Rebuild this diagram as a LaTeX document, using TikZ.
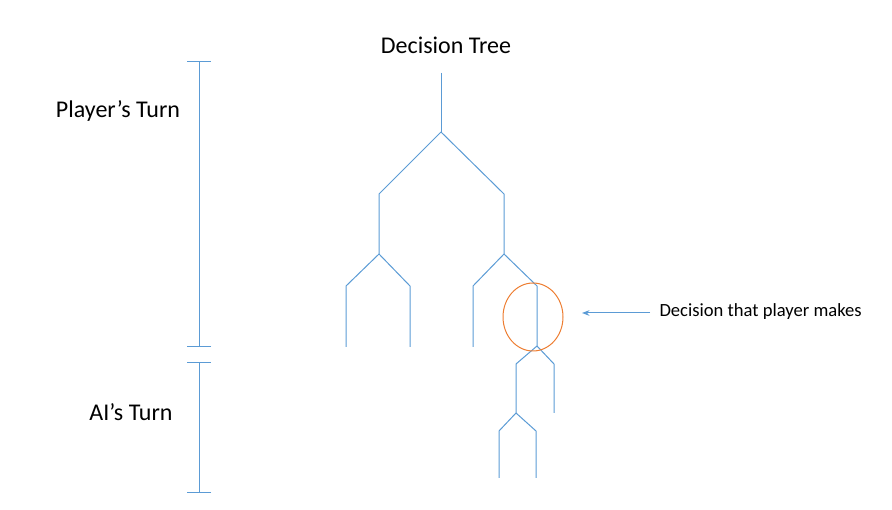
\documentclass[tikz,border=0pt]{standalone}
\usepackage{fontspec}
\setmainfont{Carlito}
\usetikzlibrary{arrows.meta, shapes.geometric}
\definecolor{treeblue}{HTML}{5B9BD5}
\definecolor{markorange}{HTML}{ED7D31}
\begin{document}
\begin{tikzpicture}[x=1pt, y=-1pt, >=Stealth, line width=1pt]
\useasboundingbox (0,0) rectangle (892,510);
\node (title) at (446,45) {\fontsize{24}{28}\selectfont Decision Tree};
\node (player) at (118,111) {\fontsize{24}{28}\selectfont Player’s Turn};
\node (ai) at (131,412) {\fontsize{24}{28}\selectfont AI’s Turn};
\node[anchor=west, inner sep=0pt] (note) at (659,312) {\fontsize{18.6}{22}\selectfont Decision that player makes};
% turn brackets
\coordinate (p1) at (199,61);
\coordinate (p2) at (199,347);
\coordinate (q1) at (199,362);
\coordinate (q2) at (199,493);
\draw[treeblue, {Bar[width=24pt]}-{Bar[width=24pt]}] (p1) -- (p2);
\draw[treeblue, {Bar[width=24pt]}-{Bar[width=24pt]}] (q1) -- (q2);
% tree
\coordinate (top) at (441,73);
\coordinate (r) at (441,132);
\coordinate (a) at (379,194);   \coordinate (a1) at (379,254);
\coordinate (b) at (504,194);   \coordinate (b1) at (504,254);
\coordinate (aa) at (346,286);  \coordinate (aa1) at (346,347);
\coordinate (ab) at (410,286);  \coordinate (ab1) at (410,347);
\coordinate (ba) at (473,286);  \coordinate (ba1) at (473,347);
\coordinate (bb) at (537,286);  \coordinate (bb1) at (537,346);
\coordinate (bba) at (516,364); \coordinate (bba1) at (516,413);
\coordinate (bbb) at (554,364); \coordinate (bbb1) at (554,413);
\coordinate (bbaa) at (499,431); \coordinate (bbaa1) at (499,478);
\coordinate (bbab) at (536,431); \coordinate (bbab1) at (536,478);
\draw[treeblue] (top) -- (r);
\draw[treeblue] (r) -- (a) -- (a1);
\draw[treeblue] (r) -- (b) -- (b1);
\draw[treeblue] (a1) -- (aa) -- (aa1);
\draw[treeblue] (a1) -- (ab) -- (ab1);
\draw[treeblue] (b1) -- (ba) -- (ba1);
\draw[treeblue] (b1) -- (bb) -- (bb1);
\draw[treeblue] (bb1) -- (bba) -- (bba1);
\draw[treeblue] (bb1) -- (bbb) -- (bbb1);
\draw[treeblue] (bba1) -- (bbaa) -- (bbaa1);
\draw[treeblue] (bba1) -- (bbab) -- (bbab1);
% chosen move
\node[draw=markorange, ellipse, minimum width=60pt, minimum height=68pt, inner sep=0pt] (pick) at (533,317) {};
\coordinate (tip) at (582,313);
\draw[treeblue, ->, shorten <=9pt] (note.west |- tip) -- (tip);
\end{tikzpicture}
\end{document}
